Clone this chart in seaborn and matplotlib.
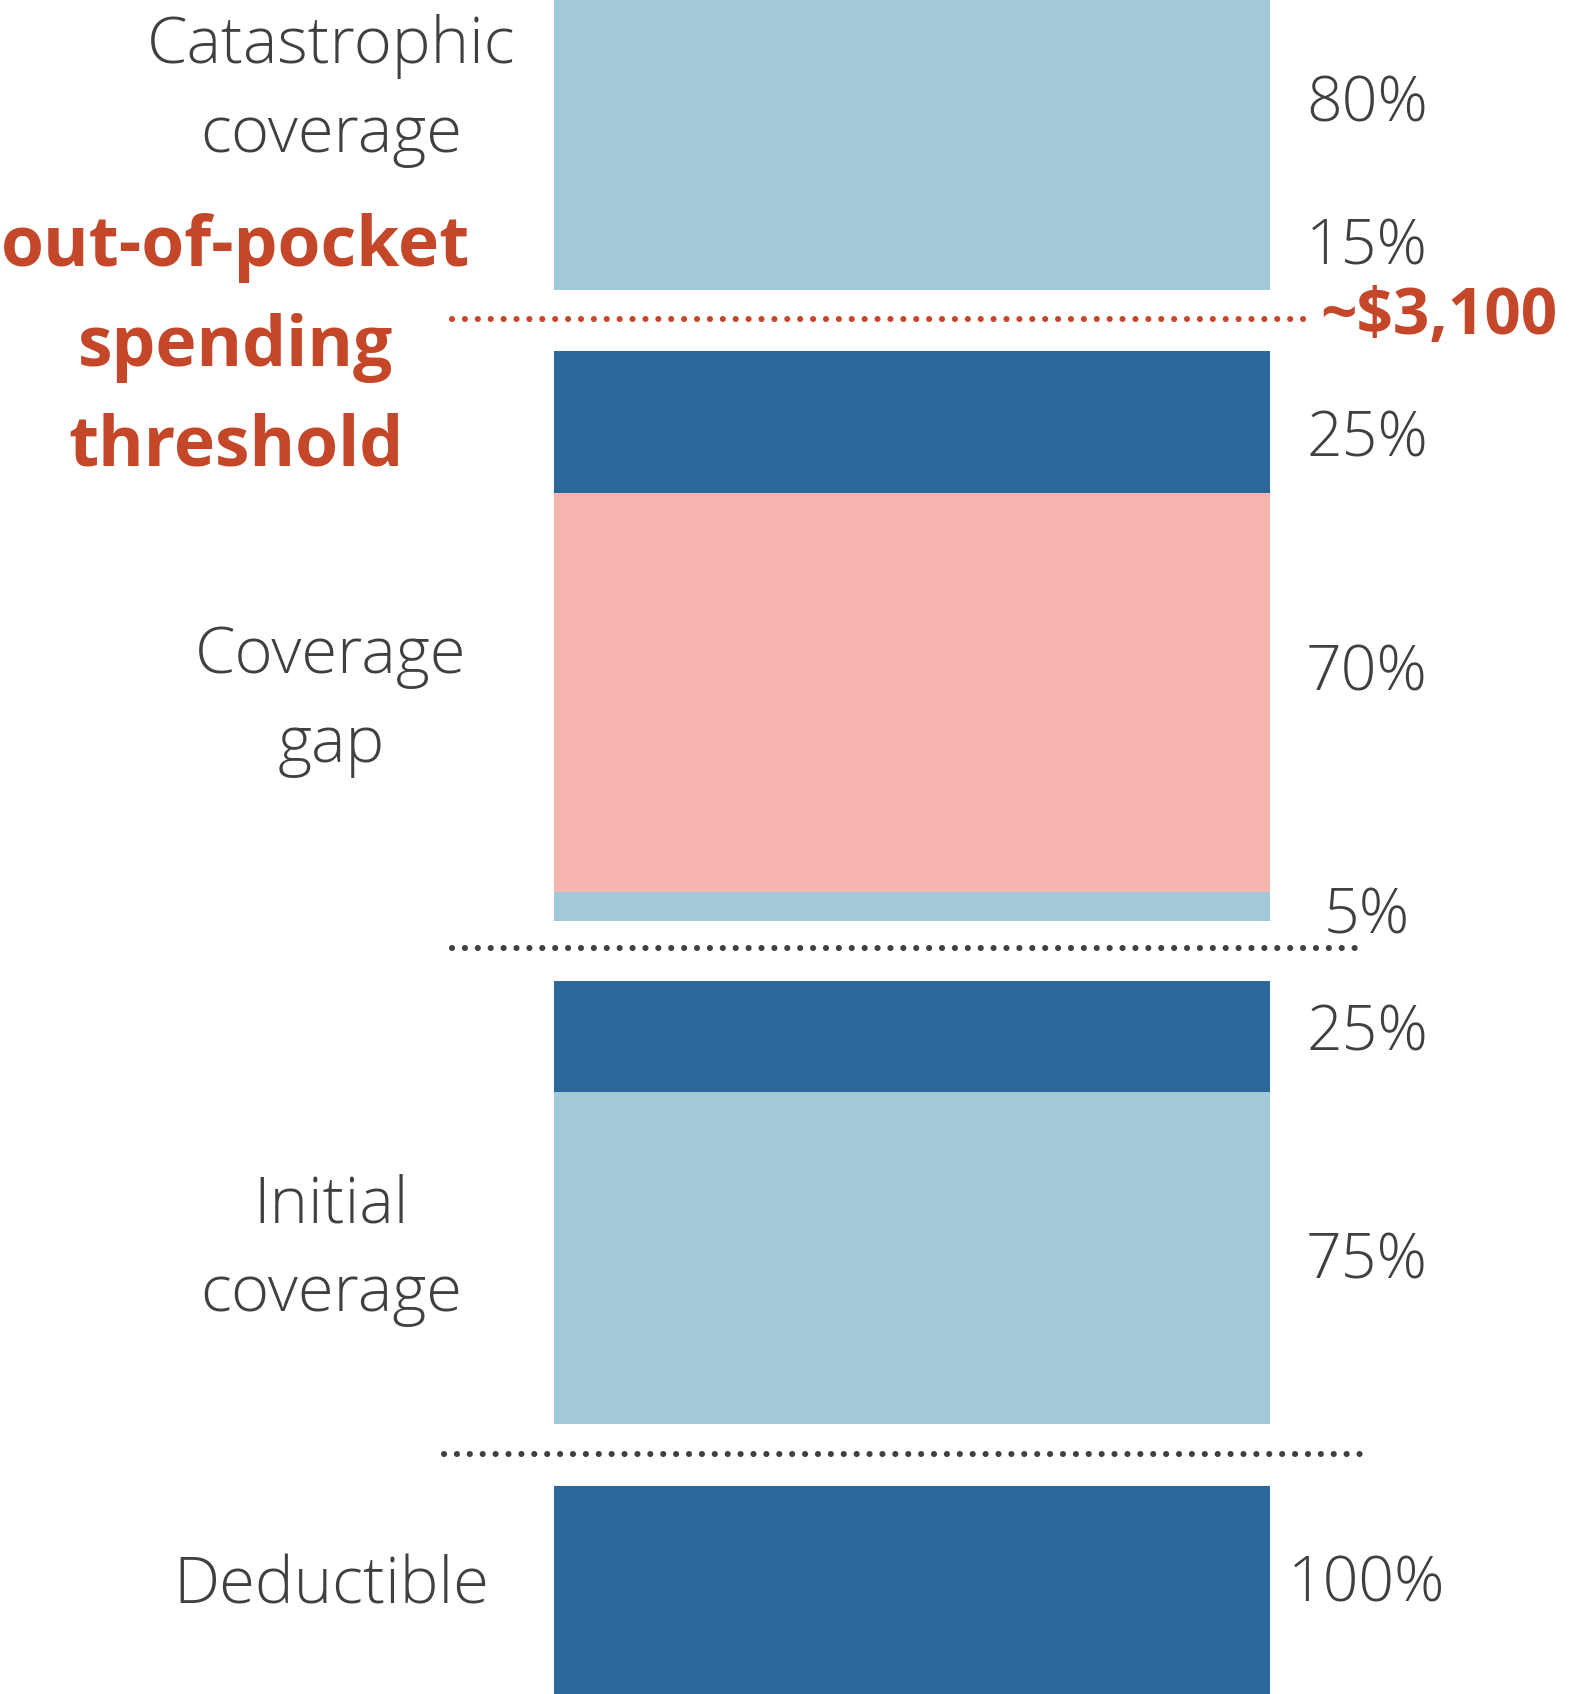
import matplotlib
matplotlib.use("Agg")
import matplotlib.pyplot as plt
import seaborn as sns

# Coinsurance share paid in each benefit phase, stacked top to bottom within the phase
phases = ["Catastrophic\ncoverage", "Coverage\ngap", "Initial\ncoverage", "Deductible"]
phase_shares = [[80, 15], [25, 70, 5], [25, 75], [100]]
phase_colors = [["#A1C9D7", "#A1C9D7"],
                ["#2B6899", "#F6B5AE", "#A1C9D7"],
                ["#2B6899", "#A1C9D7"],
                ["#2B6899"]]
share_labels = [["80%", "15%"], ["25%", "70%", "5%"], ["25%", "75%"], ["100%"]]
threshold_label = "~$3,100"
threshold_title = "out-of-pocket\nspending\nthreshold"

# Layout (pixel space, y measured downward from the top edge)
W, H = 1569, 1694
band_extent = [(0, 290), (351, 921), (981, 1424), (1486, 1720)]
label_y = [[105, 248], [440, 674, 917], [1034, 1262], [1585]]
phase_label_y = [91, 701, 1250, 1587]
bar_left, bar_right = 554, 1270
pct_x = 1367
separators = [(319, 452, 1310, "#C4472A"), (948, 452, 1367, "#404040"), (1454, 444, 1362, "#404040")]

sns.set_theme(style="white")
plt.rcParams["font.family"] = ["Open Sans", "DejaVu Sans"]

fig = plt.figure(figsize=(W / 100, H / 100), dpi=100)
ax = fig.add_axes([0, 0, 1, 1])
ax.set_xlim(0, W)
ax.set_ylim(H, 0)
ax.axis("off")

text_color = "#404040"
orange = "#C4472A"

for shares, colors, labels, ly, (top, bottom), name, py in zip(
        phase_shares, phase_colors, share_labels, label_y, band_extent, phases, phase_label_y):
    total = sum(shares)
    span = bottom - top
    y = top
    for s, c, lab, yy in zip(shares, colors, labels, ly):
        h = span * s / total
        ax.bar(bar_left, h, bottom=y, width=bar_right - bar_left, align="edge",
               color=c, linewidth=0)
        ax.text(pct_x, yy, lab, ha="center", va="center", fontsize=45,
                fontweight="light", color=text_color)
        y += h
    ax.text(331, py, name, ha="center", va="center", fontsize=47,
            fontweight="light", color=text_color, linespacing=1.48)

for yv, x0, x1, col in separators:
    ax.plot([x0, x1], [yv, yv], color=col, linewidth=4.4,
            linestyle=(0, (0.01, 2.1)), dash_capstyle="round", solid_capstyle="round")

ax.text(236, 348, threshold_title, ha="center", va="center", fontsize=50,
        fontweight="bold", color=orange, linespacing=1.56)
ax.text(1320, 318, threshold_label, ha="left", va="center", fontsize=46,
        fontweight="bold", color=orange)

fig.savefig("out.png", dpi=100)
